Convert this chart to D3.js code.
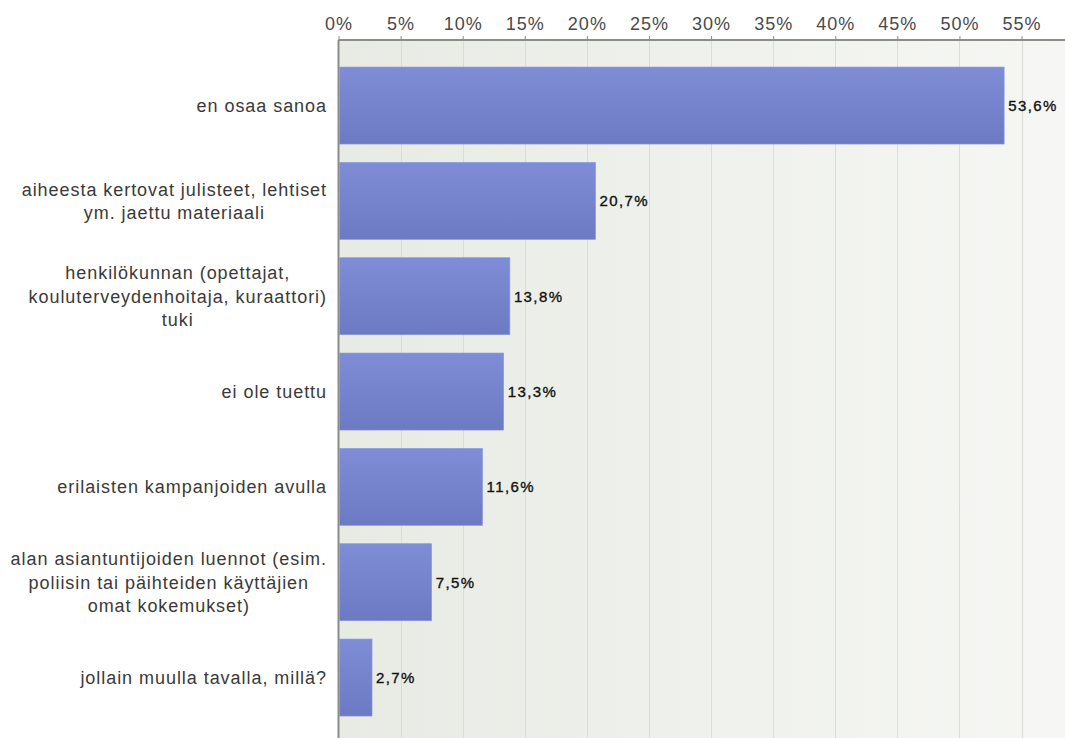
<!DOCTYPE html>
<html>
<head>
<meta charset="utf-8">
<script src="https://cdn.jsdelivr.net/npm/d3@7"></script>
<style>
  html, body { margin: 0; padding: 0; background: #ffffff; }
  svg { display: block; }
  text { font-family: "Liberation Sans", Arial, sans-serif; }
</style>
</head>
<body>
<svg id="chart" width="1065" height="738"></svg>
<script>
// Answer categories (each entry is the list of lines of its label)
const categories = [
  ["en osaa sanoa"],
  ["aiheesta kertovat julisteet, lehtiset", "ym. jaettu materiaali"],
  ["henkilökunnan (opettajat,", "kouluterveydenhoitaja, kuraattori)", "tuki"],
  ["ei ole tuettu"],
  ["erilaisten kampanjoiden avulla"],
  ["alan asiantuntijoiden luennot (esim.", "poliisin tai päihteiden käyttäjien", "omat kokemukset)"],
  ["jollain muulla tavalla, millä?"]
];
// Share of respondents, percent
const values = [53.6, 20.7, 13.8, 13.3, 11.6, 7.5, 2.7];
// Axis ticks, percent
const ticks = [0, 5, 10, 15, 20, 25, 30, 35, 40, 45, 50, 55];

const plotLeft = 338.5, plotTop = 40, plotRight = 1065, plotBottom = 738;
const labelRight = 327;

const svg = d3.select("#chart");

const x = d3.scaleLinear().domain([0, 58.5]).range([plotLeft, plotRight]);
const y = d3.scaleBand()
  .domain(d3.range(values.length))
  .range([57.5, 725.6])
  .paddingInner(0.192)
  .paddingOuter(0.1);

const defs = svg.append("defs");
const bg = defs.append("linearGradient").attr("id", "bgGrad")
  .attr("x1", 0).attr("y1", 0).attr("x2", 1).attr("y2", 0);
bg.append("stop").attr("offset", "0%").attr("stop-color", "#e8ebe4");
bg.append("stop").attr("offset", "100%").attr("stop-color", "#f6f7f4");

const barGrad = defs.append("linearGradient").attr("id", "barGrad")
  .attr("x1", 0).attr("y1", 0).attr("x2", 0).attr("y2", 1);
barGrad.append("stop").attr("offset", "0%").attr("stop-color", "#7f8dd6");
barGrad.append("stop").attr("offset", "100%").attr("stop-color", "#6b7ac2");

// Plot background
svg.append("rect")
  .attr("x", plotLeft).attr("y", plotTop)
  .attr("width", plotRight - plotLeft).attr("height", plotBottom - plotTop)
  .attr("fill", "url(#bgGrad)");

// Vertical gridlines
svg.append("g").selectAll("line")
  .data(ticks.filter(t => t > 0))
  .join("line")
  .attr("x1", d => Math.round(x(d)) + 0.5).attr("x2", d => Math.round(x(d)) + 0.5)
  .attr("y1", plotTop).attr("y2", plotBottom)
  .attr("stroke", "#dadcd6").attr("stroke-width", 1);

// Top axis
const axis = d3.axisTop(x)
  .tickValues(ticks)
  .tickSize(4)
  .tickPadding(6)
  .tickFormat(d => d + "%");
const gAxis = svg.append("g")
  .attr("transform", `translate(0,${plotTop})`)
  .call(axis);
gAxis.select(".domain").attr("stroke", "#8c8c8c").attr("stroke-width", 2)
  .attr("d", `M${plotLeft},0H${plotRight}`);
gAxis.selectAll(".tick line").attr("stroke", "#8c8c8c");
gAxis.selectAll(".tick text")
  .attr("fill", "#4a4a4a")
  .style("font-size", "18px")
  .style("letter-spacing", "1px");

// Left axis line
svg.append("line")
  .attr("x1", plotLeft).attr("x2", plotLeft)
  .attr("y1", plotTop).attr("y2", plotBottom)
  .attr("stroke", "#8c8c8c").attr("stroke-width", 2);

// Bars
svg.append("g").selectAll("rect")
  .data(values)
  .join("rect")
  .attr("x", plotLeft + 1)
  .attr("y", (d, i) => y(i))
  .attr("width", d => x(d) - plotLeft - 1)
  .attr("height", y.bandwidth())
  .attr("fill", "url(#barGrad)")
  .attr("stroke", "#8a98dc")
  .attr("stroke-width", 0.6);

// Value labels
svg.append("g").selectAll("text")
  .data(values)
  .join("text")
  .attr("x", d => x(d) + 4)
  .attr("y", (d, i) => y(i) + y.bandwidth() / 2)
  .attr("dy", "0.36em")
  .attr("fill", "#111")
  .attr("stroke", "#111")
  .attr("stroke-width", 0.35)
  .style("font-size", "15px")
  .style("letter-spacing", "1.4px")
  .text(d => d.toFixed(1).replace(".", ",") + "%");

// Category labels: lines centred on each other, block right-aligned to the axis
const lineH = 23.5;
const catG = svg.append("g");
categories.forEach((lines, i) => {
  const cy = y(i) + y.bandwidth() / 2;
  const t = catG.append("text")
    .attr("fill", "#3a3a3a")
    .attr("text-anchor", "middle")
    .style("font-size", "18px")
    .style("letter-spacing", "0.95px");
  const spans = lines.map((ln, k) =>
    t.append("tspan")
      .attr("y", cy + (k - (lines.length - 1) / 2) * lineH)
      .attr("dy", "0.36em")
      .text(ln));
  const maxW = d3.max(spans, s => s.node().getComputedTextLength());
  spans.forEach(s => s.attr("x", labelRight - maxW / 2));
});
</script>
</body>
</html>
